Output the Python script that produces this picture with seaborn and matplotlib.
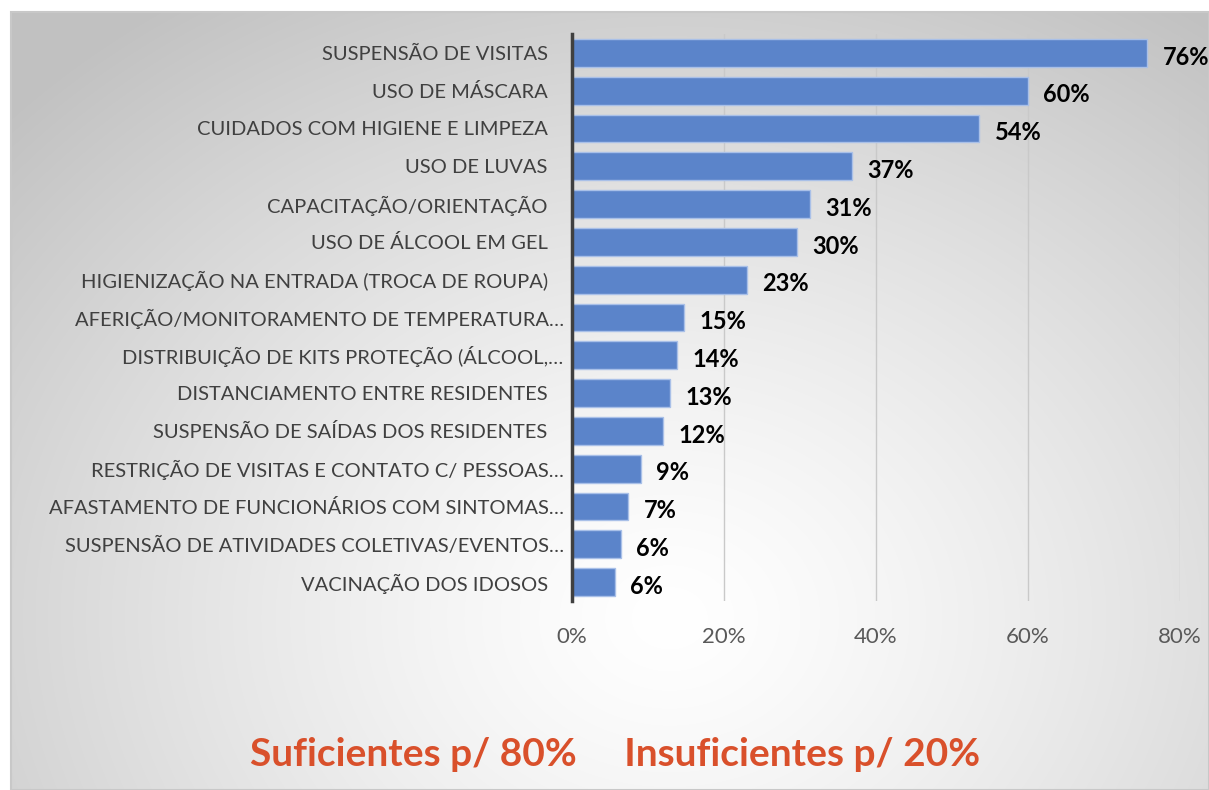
import numpy as np
import pandas as pd
import matplotlib
matplotlib.use("Agg")
import matplotlib.pyplot as plt
import matplotlib.transforms as mtransforms
import seaborn as sns

categories = [
    "SUSPENSÃO DE VISITAS",
    "USO DE MÁSCARA",
    "CUIDADOS COM HIGIENE E LIMPEZA",
    "USO DE LUVAS",
    "CAPACITAÇÃO/ORIENTAÇÃO",
    "USO DE ÁLCOOL EM GEL",
    "HIGIENIZAÇÃO NA ENTRADA (TROCA DE ROUPA)",
    "AFERIÇÃO/MONITORAMENTO DE TEMPERATURA…",
    "DISTRIBUIÇÃO DE KITS PROTEÇÃO (ÁLCOOL,…",
    "DISTANCIAMENTO ENTRE RESIDENTES",
    "SUSPENSÃO DE SAÍDAS DOS RESIDENTES",
    "RESTRIÇÃO DE VISITAS E CONTATO C/ PESSOAS…",
    "AFASTAMENTO DE FUNCIONÁRIOS COM SINTOMAS…",
    "SUSPENSÃO DE ATIVIDADES COLETIVAS/EVENTOS…",
    "VACINAÇÃO DOS IDOSOS",
]
values = [75.7, 60.0, 53.6, 36.8, 31.3, 29.6, 23.0, 14.7, 13.8, 12.9, 12.0, 9.1, 7.4, 6.4, 5.6]
value_labels = ["76%", "60%", "54%", "37%", "31%", "30%", "23%", "15%", "14%", "13%", "12%", "9%", "7%", "6%", "6%"]
x_ticks = [0, 20, 40, 60, 80]
x_tick_labels = ["0%", "20%", "40%", "60%", "80%"]
footer = "Suficientes p/ 80%     Insuficientes p/ 20%"

sns.set_theme(style="white")
plt.rcParams["font.family"] = ["Lato", "DejaVu Sans"]

W, H = 1209, 790
fig = plt.figure(figsize=(W / 100, H / 100), dpi=100)
fig.patch.set_facecolor("white")

# background with radial gradient
bx0, by0 = 11, 12
bg = fig.add_axes([bx0 / W, 0, (W - bx0) / W, (H - by0) / H], zorder=0)
nx, ny = 600, 400
xx, yy = np.meshgrid(np.linspace(0, 1, nx), np.linspace(0, 1, ny))
cx, cy = 0.55, 0.78
d = np.sqrt(((xx - cx) / 0.75) ** 2 + ((yy - cy) / 0.95) ** 2)
d = np.clip(d, 0, 1)
g = 1.0 - 0.24 * d ** 1.3
img = np.dstack([g, g, g])
bg.imshow(img, aspect="auto", extent=[0, 1, 1, 0], interpolation="bilinear")
bg.set_xlim(0, 1)
bg.set_ylim(1, 0)
bg.axis("off")
fig.add_artist(plt.Rectangle((bx0 / W, 0), (W - bx0) / W, (H - by0) / H,
                             transform=fig.transFigure, fill=False,
                             edgecolor="#c8c8c8", lw=1.5, zorder=1))

# main axes
L, R, T, B = 572, 1180, 34, 601
ax = fig.add_axes([L / W, 1 - B / H, (R - L) / W, (B - T) / H], zorder=2)
ax.patch.set_alpha(0)

df = pd.DataFrame({"cat": categories, "val": values})
sns.barplot(data=df, x="val", y="cat", orient="h", ax=ax, color="#5B84CA",
            width=0.74, edgecolor="#a9c0e8", linewidth=1.0, saturation=1)
ax.set_xlim(0, 80)
ax.set_ylim(len(categories) - 0.5, -0.5)
ax.set_xticks(x_ticks)
ax.set_xticklabels(x_tick_labels, fontsize=16, color="#595959")
ax.tick_params(axis="x", length=0, pad=19)
ax.tick_params(axis="y", length=0, pad=6, labelsize=14.5, labelcolor="#404040")
ax.set_xlabel("")
ax.set_ylabel("")
ax.xaxis.grid(True, color="#c9c9c9", lw=1)
ax.set_axisbelow(True)
for s in ["top", "right", "bottom"]:
    ax.spines[s].set_visible(False)
ax.spines["left"].set_color("#404040")
ax.spines["left"].set_linewidth(2.5)
ax.spines["left"].set_zorder(5)

# non-truncated labels sit a bit further left (as in the original)
shift = mtransforms.ScaledTranslation(-16 / 100, 0, fig.dpi_scale_trans)
for t in ax.get_yticklabels():
    if not t.get_text().endswith("…"):
        t.set_transform(t.get_transform() + shift)

for i, (v, lab) in enumerate(zip(values, value_labels)):
    ax.annotate(lab, xy=(v, i), xytext=(11, -3), textcoords="offset points",
                ha="left", va="center", fontsize=17, fontweight="bold", color="black")

fig.text(615 / W, 1 - 755 / H, footer, ha="center", va="center",
         fontsize=28, fontweight="bold", color="#D9502B", zorder=3)

fig.savefig("out.png", dpi=100, facecolor="white")
